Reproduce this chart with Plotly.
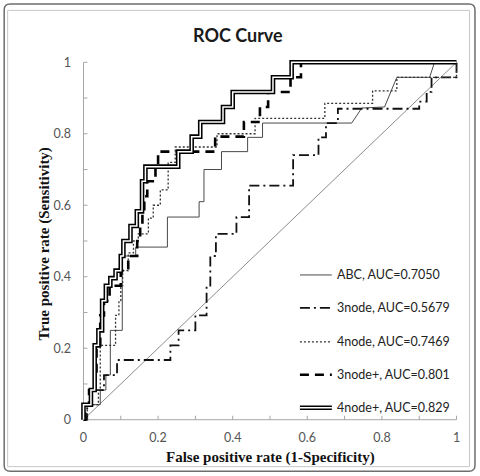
import plotly.graph_objects as go

# ---------------- data ----------------
# ABC : ROC vertices (linear, ties give sloped parts)
abc_fpr = [0, 0, 0.045, 0.045, 0.06, 0.06, 0.072, 0.072, 0.104, 0.104, 0.14, 0.14, 0.225, 0.225,
           0.31, 0.31, 0.323, 0.323, 0.37, 0.37, 0.44, 0.44, 0.48, 0.48, 0.719, 0.746, 0.807,
           0.84, 0.928, 0.941, 1.0]
abc_tpr = [0, 0.042, 0.042, 0.083, 0.083, 0.125, 0.125, 0.25, 0.25, 0.458, 0.458, 0.483, 0.483, 0.567,
           0.567, 0.61, 0.61, 0.70, 0.70, 0.75, 0.75, 0.79, 0.79, 0.83, 0.83, 0.872, 0.875,
           0.958, 0.958, 1.0, 1.0]

# step curves (horizontal-then-vertical corners)
n3_fpr = [0, 0.01, 0.02, 0.055, 0.09, 0.233, 0.255, 0.30, 0.33, 0.34, 0.355, 0.41, 0.444, 0.562,
          0.63, 0.65, 0.682, 0.90, 0.92, 0.933, 1.0]
n3_tpr = [0, 0.042, 0.083, 0.125, 0.167, 0.208, 0.25, 0.292, 0.375, 0.458, 0.52, 0.567, 0.655, 0.74,
          0.79, 0.83, 0.87, 0.89, 0.917, 0.958, 1.0]

n4_fpr = [0, 0.01, 0.04, 0.045, 0.086, 0.095, 0.10, 0.105, 0.12, 0.134, 0.147, 0.174, 0.187, 0.206,
          0.227, 0.246, 0.358, 0.46, 0.647, 0.775, 0.84, 1.0]
n4_tpr = [0, 0.042, 0.083, 0.208, 0.292, 0.333, 0.375, 0.417, 0.467, 0.50, 0.52, 0.564, 0.60, 0.643,
          0.72, 0.763, 0.80, 0.843, 0.885, 0.92, 0.958, 1.0]

n3p_fpr = [0, 0.005, 0.015, 0.03, 0.035, 0.045, 0.055, 0.07, 0.085, 0.10, 0.12, 0.144, 0.152, 0.158,
           0.163, 0.171, 0.193, 0.20, 0.353, 0.43, 0.473, 0.495, 0.555, 0.583, 1.0]
n3p_tpr = [0, 0.042, 0.083, 0.125, 0.208, 0.292, 0.333, 0.375, 0.375, 0.417, 0.458, 0.50, 0.542, 0.583,
           0.625, 0.667, 0.708, 0.75, 0.792, 0.833, 0.875, 0.917, 0.958, 1.0, 1.0]

n4p_fpr = [0, 0, 0.02, 0.03, 0.04, 0.05, 0.06, 0.072, 0.086, 0.10, 0.107, 0.126, 0.143, 0.157, 0.166,
           0.254, 0.29, 0.313, 0.374, 0.40, 0.508, 0.558, 1.0]
n4p_tpr = [0, 0.042, 0.083, 0.208, 0.25, 0.333, 0.375, 0.396, 0.417, 0.458, 0.50, 0.542, 0.583, 0.667,
           0.708, 0.75, 0.792, 0.833, 0.875, 0.917, 0.958, 1.0, 1.0]

legend_labels = ["ABC, AUC=0.7050", "3node, AUC=0.5679", "4node, AUC=0.7469",
                 "3node+, AUC=0.801", "4node+, AUC=0.829"]
tick_vals = [0, 0.2, 0.4, 0.6, 0.8, 1]
tick_text = ["0", "0.2", "0.4", "0.6", "0.8", "1"]
minor_ticks = [i / 10 for i in range(11)]

# ---------------- geometry ----------------
W, H = 480, 476
X0, X1, Y0, Y1 = 83, 457, 420, 62   # pixel positions of data 0 and 1
PAD = 0.012
SX, SY = X1 - X0, Y0 - Y1
L = X0 - PAD * SX
R = W - (X1 + PAD * SX)
T = Y1 - PAD * SY
B = H - (Y0 + PAD * SY)
PW, PH = W - L - R, H - T - B


def xp(px):
    return (px - L) / PW


def yp(py):
    return (H - B - py) / PH


fig = go.Figure()

AX = "#a6a6a6"
shapes = []
# axis lines
shapes.append(dict(type="line", xref="x", yref="y", x0=0, x1=0, y0=0, y1=1,
                   line=dict(color=AX, width=1), layer="below"))
shapes.append(dict(type="line", xref="x", yref="y", x0=0, x1=1, y0=0, y1=0,
                   line=dict(color=AX, width=1), layer="below"))
for v in minor_ticks:
    shapes.append(dict(type="line", xref="x", yref="y", x0=0, x1=4 / SX, y0=v, y1=v,
                       line=dict(color=AX, width=1), layer="below"))
    shapes.append(dict(type="line", xref="x", yref="y", x0=v, x1=v, y0=0, y1=4 / SY,
                       line=dict(color=AX, width=1), layer="below"))

# diagonal reference
fig.add_trace(go.Scatter(x=[0, 1], y=[0, 1], mode="lines",
                         line=dict(color="#8c8c8c", width=1), showlegend=False, hoverinfo="skip"))

fig.add_trace(go.Scatter(x=abc_fpr, y=abc_tpr, mode="lines", name=legend_labels[0],
                         line=dict(color="#4a4a4a", width=1), showlegend=False))
fig.add_trace(go.Scatter(x=n3_fpr, y=n3_tpr, mode="lines", name=legend_labels[1], line_shape="hv",
                         line=dict(color="#111", width=1.8, dash="10px,4px,2px,4px"), showlegend=False))
fig.add_trace(go.Scatter(x=n4_fpr, y=n4_tpr, mode="lines", name=legend_labels[2], line_shape="hv",
                         line=dict(color="#333", width=1.3, dash="2px,2px"), showlegend=False))
fig.add_trace(go.Scatter(x=n3p_fpr, y=n3p_tpr, mode="lines", name=legend_labels[3], line_shape="hv",
                         line=dict(color="#000", width=2.6, dash="9px,6px"), showlegend=False))
fig.add_trace(go.Scatter(x=n4p_fpr, y=n4p_tpr, mode="lines", name=legend_labels[4], line_shape="hv",
                         line=dict(color="#000", width=4.6), showlegend=False))
fig.add_trace(go.Scatter(x=n4p_fpr, y=n4p_tpr, mode="lines", line_shape="hv",
                         line=dict(color="#fff", width=1.5), showlegend=False, hoverinfo="skip"))

# manual legend
leg_y = [275, 308, 342, 375, 408]
styles = [dict(color="#4a4a4a", width=1),
          dict(color="#111", width=1.8, dash="10px,4px,2px,4px"),
          dict(color="#333", width=1.3, dash="2px,2px"),
          dict(color="#000", width=2.6, dash="9px,6px"),
          dict(color="#000", width=4.6)]
annotations = []
for lab, py, st in zip(legend_labels, leg_y, styles):
    shapes.append(dict(type="line", xref="paper", yref="paper", x0=xp(300), x1=xp(332),
                       y0=yp(py), y1=yp(py), line=st))
    annotations.append(dict(text=lab, xref="paper", yref="paper", x=xp(335), y=yp(py),
                            xanchor="left", yanchor="middle", showarrow=False,
                            font=dict(family="Lato", size=12.5, color="#222")))
shapes.append(dict(type="line", xref="paper", yref="paper", x0=xp(300), x1=xp(332),
                   y0=yp(408), y1=yp(408), line=dict(color="#fff", width=1.5)))

# frame
shapes.append(dict(type="rect", xref="paper", yref="paper", x0=xp(7), x1=xp(470), y0=yp(10), y1=yp(467),
                   line=dict(color="#c8c8c8", width=1), layer="below"))
x_a, x_b, y_a, y_b, rr = 3.5, 475.5, 3.5, 471.5, 6
path = (f"M {xp(x_a + rr)},{yp(y_a)} L {xp(x_b - rr)},{yp(y_a)} Q {xp(x_b)},{yp(y_a)} {xp(x_b)},{yp(y_a + rr)} "
        f"L {xp(x_b)},{yp(y_b - rr)} Q {xp(x_b)},{yp(y_b)} {xp(x_b - rr)},{yp(y_b)} "
        f"L {xp(x_a + rr)},{yp(y_b)} Q {xp(x_a)},{yp(y_b)} {xp(x_a)},{yp(y_b - rr)} "
        f"L {xp(x_a)},{yp(y_a + rr)} Q {xp(x_a)},{yp(y_a)} {xp(x_a + rr)},{yp(y_a)} Z")
shapes.append(dict(type="path", xref="paper", yref="paper", path=path,
                   line=dict(color="#6e6e6e", width=1.5), layer="below"))

# titles
annotations.append(dict(text="<b>ROC Curve</b>", xref="paper", yref="paper", x=xp(238), y=yp(35),
                        xanchor="center", yanchor="middle", showarrow=False,
                        font=dict(family="Lato", size=18, color="#1a1a1a")))
annotations.append(dict(text="<b>False positive rate (1-Specificity)</b>", xref="paper", yref="paper",
                        x=xp(270), y=yp(458), xanchor="center", yanchor="middle", showarrow=False,
                        font=dict(family="Liberation Serif", size=15, color="#111")))
annotations.append(dict(text="<b>True positive rate (Sensitivity)</b>", xref="paper", yref="paper",
                        x=xp(44), y=yp(244), xanchor="center", yanchor="middle", showarrow=False,
                        textangle=-90, font=dict(family="Liberation Serif", size=15, color="#111")))

tickfont = dict(family="Lato", size=12.5, color="#555")
fig.update_layout(
    width=W, height=H, margin=dict(l=L, r=R, t=T, b=B, pad=0),
    paper_bgcolor="white", plot_bgcolor="white",
    xaxis=dict(range=[-PAD, 1 + PAD], showgrid=False, zeroline=False, showline=False,
               tickvals=tick_vals, ticktext=tick_text, ticks="", tickfont=tickfont,
               ticklabelstandoff=4, fixedrange=True),
    yaxis=dict(range=[-PAD, 1 + PAD], showgrid=False, zeroline=False, showline=False,
               tickvals=tick_vals, ticktext=tick_text, ticks="", tickfont=tickfont,
               ticklabelstandoff=7, fixedrange=True),
    shapes=shapes, annotations=annotations, showlegend=False,
)

fig.write_html("out.html")
